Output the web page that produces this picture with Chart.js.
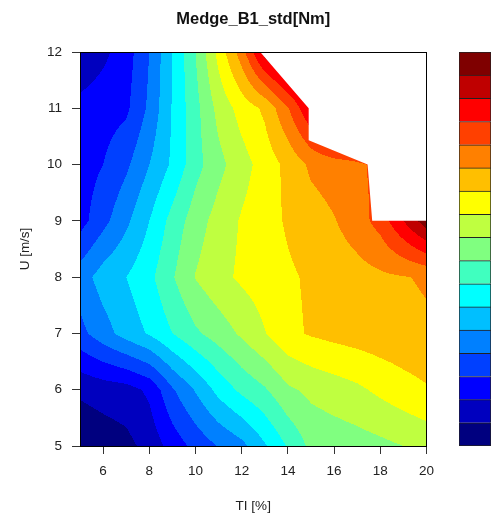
<!DOCTYPE html>
<html>
<head>
<meta charset="utf-8">
<script src="https://cdn.jsdelivr.net/npm/chart.js@4.4.1/dist/chart.umd.min.js"></script>
<style>
html,body{margin:0;padding:0;background:#fff;}
#wrap{position:relative;width:500px;height:516px;}
#contour{position:absolute;left:0;top:0;}
#key{position:absolute;left:459px;top:52px;}
</style>
</head>
<body>
<div id="wrap">
  <canvas id="contour" width="500" height="516"></canvas>
  <canvas id="key" width="32" height="394"></canvas>
</div>
<script>
// =========================================
// DATA
// =========================================

// grid axes
const tiValues = [5,6,7,8,9,10,11,12,13,14,15,16,17,18,19,20];
const uValues  = [5,6,7,8,9,10,11,12];

// Medge_B1_std, one row per wind speed (U = 5 ... 12), one column per TI
const stdGrid = [
  [0.1, 0.4, 0.7, 1.35,2.41,3.31,4.06,4.7, 5.88,7.1, 8.25,8.4, 8.55,8.75,9.0, 9.3 ],
  [1.2, 1.45,1.6, 2.2, 3.88,5.09,6.33,7.25,7.89,8.83,9.24,9.52,9.81,10.22,10.6,10.9],
  [3.7, 4.58,5.42,6.12,7.0, 7.83,8.47,9.17,9.95,10.77,11.1,11.3,11.45,11.6,11.72,11.85],
  [4.5, 5.45,6.0, 6.74,7.91,9.05,9.7, 10.18,10.52,10.86,11.14,11.37,11.6,11.8,11.95,12.1],
  [2.6, 3.69,4.78,6.0, 7.36,8.53,9.41,10.1,10.63,11.12,11.53,11.94,12.54,13.4,15.0,16.6],
  [2.5, 3.0, 3.81,5.0, 6.17,7.63,8.7, 9.6, 10.44,11.28,12.2,12.5,12.8,13.3,15.0,16.5],
  [2.3, 2.55,2.8, 4.2, 6.08,7.67,9.33,10.4,11.2,12.92,15.0,17,17,17,17,17],
  [1.2, 1.77,2.51,4.0, 6.0, 8.0, 10.33,12.55,15.5,17,17,17,17,17,17,17]
];

// contour breaks and their fill colours
const levels = [0,1,2,3,4,5,6,7,8,9,10,11,12,13,14,15,16,17];
const levelColors = [
  "#00007F","#0000BF","#0000FF","#0040FF","#0080FF","#00BFFF",
  "#00FFFF","#40FFBF","#80FF80","#BFFF40","#FFFF00","#FFBF00",
  "#FF8000","#FF4000","#FF0000","#BF0000","#7F0000"
];

// outline of the measured region (TI, U)
const coverTI = [5, 12.8, 14.9, 14.9, 17.45, 17.65, 20, 20, 5];
const coverU  = [12, 12, 11, 10.43, 10, 9, 9, 5, 5];

// tick labels
const xTicks = [6,8,10,12,14,16,18,20];
const yTicks = [5,6,7,8,9,10,11,12];

// =========================================
// HELPERS
// =========================================

function fieldAt(ti, u){
    let i = 0;
    while(i < tiValues.length - 2 && ti > tiValues[i+1]) i++;
    let j = 0;
    while(j < uValues.length - 2 && u > uValues[j+1]) j++;
    const fx = (ti - tiValues[i]) / (tiValues[i+1] - tiValues[i]);
    const fy = (u - uValues[j]) / (uValues[j+1] - uValues[j]);
    const z00 = stdGrid[j][i],   z10 = stdGrid[j][i+1];
    const z01 = stdGrid[j+1][i], z11 = stdGrid[j+1][i+1];
    return z00*(1-fx)*(1-fy) + z10*fx*(1-fy) + z01*(1-fx)*fy + z11*fx*fy;
}

function bandOf(z){
    for(let k = levels.length - 2; k >= 0; k--){
        if(z >= levels[k]) return k;
    }
    return 0;
}

function hexToRgb(h){
    return [parseInt(h.substr(1,2),16), parseInt(h.substr(3,2),16), parseInt(h.substr(5,2),16)];
}

// =========================================
// CONTOUR PLUGIN
// =========================================

const contourPlugin = {
    id:'contourFill',

    beforeDatasetsDraw(chart){
        const {ctx, chartArea:a, scales:{x, y}} = chart;
        const w = Math.round(a.right - a.left);
        const h = Math.round(a.bottom - a.top);
        const off = document.createElement('canvas');
        off.width = w; off.height = h;
        const octx = off.getContext('2d');
        const img = octx.createImageData(w, h);
        const rgb = levelColors.map(hexToRgb);

        for(let py = 0; py < h; py++){
            const u = y.getValueForPixel(a.top + py + 0.5);
            for(let px = 0; px < w; px++){
                const ti = x.getValueForPixel(a.left + px + 0.5);
                const c = rgb[bandOf(fieldAt(ti, u))];
                const k = (py*w + px)*4;
                img.data[k] = c[0]; img.data[k+1] = c[1]; img.data[k+2] = c[2]; img.data[k+3] = 255;
            }
        }
        octx.putImageData(img, 0, 0);

        ctx.save();
        ctx.beginPath();
        coverTI.forEach((t, i) => {
            const px = x.getPixelForValue(t), py = y.getPixelForValue(coverU[i]);
            if(i === 0) ctx.moveTo(px, py); else ctx.lineTo(px, py);
        });
        ctx.closePath();
        ctx.clip();
        ctx.drawImage(off, a.left, a.top);
        ctx.restore();
    },

    afterDraw(chart){
        const {ctx, chartArea:a} = chart;
        ctx.save();
        ctx.strokeStyle = '#000';
        ctx.lineWidth = 1;
        ctx.strokeRect(Math.round(a.left) + 0.5, Math.round(a.top) + 0.5,
                       Math.round(a.right - a.left) - 1, Math.round(a.bottom - a.top));
        ctx.restore();
    }
};

// =========================================
// MAIN CHART
// =========================================

Chart.defaults.font.family = "'Liberation Sans', Arial, sans-serif";
Chart.defaults.color = '#222';

new Chart(document.getElementById('contour'), {
    type:'scatter',
    data:{ datasets:[] },
    plugins:[contourPlugin],
    options:{
        responsive:false,
        devicePixelRatio:1,
        animation:false,
        layout:{ padding:{ left:0, right:73.5, top:0, bottom:0 } },
        plugins:{
            legend:{ display:false },
            tooltip:{ enabled:false },
            title:{
                display:true,
                fullSize:false,
                text:'Medge_B1_std[Nm]',
                color:'#111',
                font:{ size:16.5, weight:'bold' },
                padding:{ top:10, bottom:22.2 }
            }
        },
        scales:{
            x:{
                type:'linear',
                min:5, max:20,
                afterBuildTicks(scale){ scale.ticks = xTicks.map(v => ({value:v})); },
                afterFit(scale){ scale.height = 70; },
                grid:{ drawOnChartArea:false, drawTicks:true, tickLength:8, color:'#333' },
                border:{ display:true, color:'#000' },
                ticks:{ color:'#222', font:{ size:13.5 }, padding:9.5, maxRotation:0, autoSkip:false },
                title:{ display:true, text:'TI [%]', color:'#222', font:{ size:13.5 }, padding:{ top:0, bottom:2 } }
            },
            y:{
                type:'linear',
                min:5, max:12,
                afterBuildTicks(scale){ scale.ticks = yTicks.map(v => ({value:v})); },
                afterFit(scale){ scale.width = 80; },
                grid:{ drawOnChartArea:false, drawTicks:true, tickLength:8, color:'#333' },
                border:{ display:true, color:'#000' },
                ticks:{ color:'#222', font:{ size:13.5 }, padding:10, autoSkip:false },
                title:{ display:true, text:'U [m/s]', color:'#222', font:{ size:13.5 }, padding:{ top:17, bottom:0 } }
            }
        }
    }
});

// =========================================
// COLOUR KEY
// =========================================

new Chart(document.getElementById('key'), {
    type:'bar',
    data:{
        labels:[''],
        datasets: levelColors.map((c, i) => ({
            data:[[levels[i], levels[i+1]]],
            backgroundColor:c,
            borderColor:'#222',
            borderWidth:1,
            borderSkipped: i === 0 ? false : 'start',
            barPercentage:1,
            categoryPercentage:1,
            grouped:false
        }))
    },
    options:{
        responsive:false,
        devicePixelRatio:1,
        animation:false,
        layout:{ padding:0 },
        plugins:{ legend:{ display:false }, tooltip:{ enabled:false } },
        scales:{
            x:{ display:false },
            y:{ display:false, min:levels[0], max:levels[levels.length-1] }
        }
    }
});
</script>
</body>
</html>
